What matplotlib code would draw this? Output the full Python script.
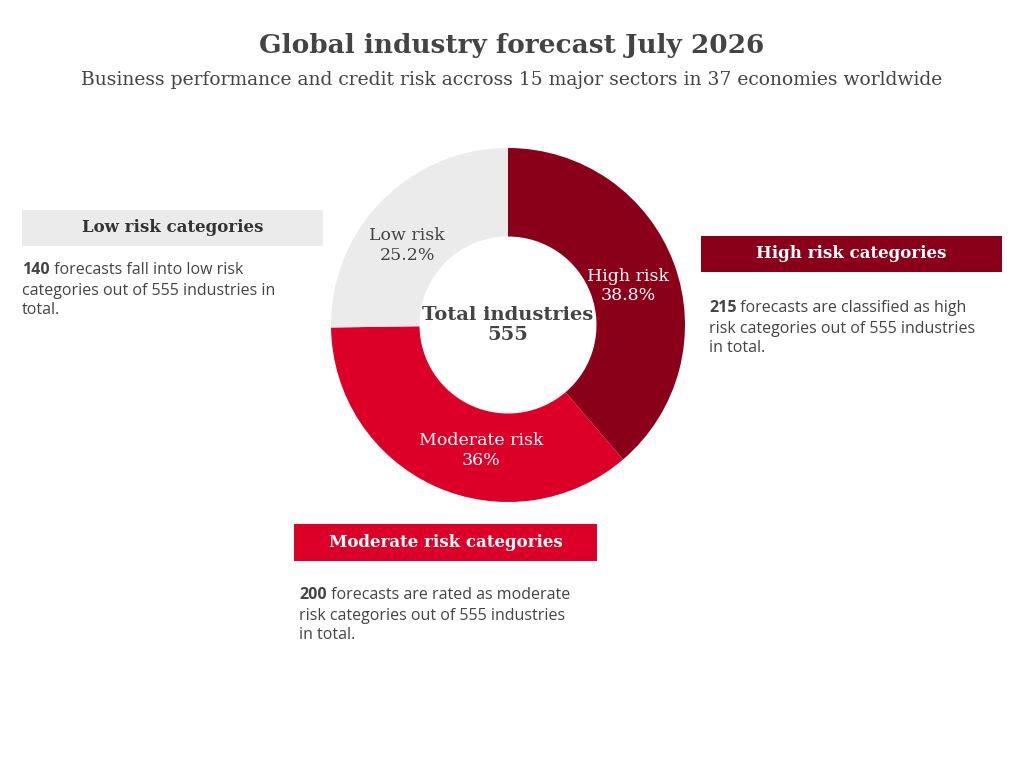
import matplotlib.pyplot as plt
from matplotlib.patches import Rectangle

labels = ["High risk", "Moderate risk", "Low risk"]
counts = [215, 200, 140]
pct_labels = ["38.8%", "36%", "25.2%"]
colors = ["#8B0019", "#DC0028", "#EBEBEB"]
total = sum(counts)

serif = "DejaVu Serif"
sans = "Open Sans"
W, H = 1024, 768

fig = plt.figure(figsize=(10.24, 7.68), dpi=100)

def fx(px):
    return px / W

def fy(py):
    return 1 - py / H

fig.text(0.5, fy(45), "Global industry forecast July 2026", ha="center", va="center",
         fontsize=19, fontweight="bold", family=serif, color="#444444")
fig.text(0.5, fy(80), "Business performance and credit risk accross 15 major sectors in 37 economies worldwide",
         ha="center", va="center", fontsize=13.5, family=serif, color="#444444")

ax = fig.add_axes([fx(508 - 177), fy(325 + 177), fx(354), 354 / H])
wedges, _ = ax.pie(counts, colors=colors, startangle=90, counterclock=False,
                   radius=1, wedgeprops=dict(width=0.5, edgecolor="white", linewidth=0))
ax.set_xlim(-1, 1)
ax.set_ylim(-1, 1)
ax.set_aspect("equal")
ax.axis("off")

txt_colors = ["white", "white", "#444444"]
pos = [(0.68, 0.22), (-0.15, -0.71), (-0.57, 0.45)]
for (x, y), lab, p, c in zip(pos, labels, pct_labels, txt_colors):
    ax.text(x, y, f"{lab}\n{p}", ha="center", va="center", fontsize=12.5,
            family=serif, color=c, linespacing=1.2)
ax.text(0, 0, f"Total industries\n{total}", ha="center", va="center", fontsize=14,
        fontweight="bold", family=serif, color="#444444", linespacing=1.2)

boxes = [
    (22, 210, 301, 36, "#EBEBEB", "#333333", "Low risk categories",
     [f"{counts[2]}", " forecasts fall into low risk\ncategories out of 555 industries in\ntotal."], 22, 262),
    (701, 236, 301, 36, colors[0], "white", "High risk categories",
     [f"{counts[0]}", " forecasts are classified as high\nrisk categories out of 555 industries\nin total."], 709, 300),
    (294, 524, 303, 37, colors[1], "white", "Moderate risk categories",
     [f"{counts[1]}", " forecasts are rated as moderate\nrisk categories out of 555 industries\nin total."], 299, 587),
]
for x, y, w, h, fc, tc, title, body, bx, by in boxes:
    fig.patches.append(Rectangle((fx(x), fy(y + h)), fx(w), h / H, transform=fig.transFigure,
                                 facecolor=fc, edgecolor="none"))
    fig.text(fx(x + w / 2), fy(y + h / 2), title, ha="center", va="center", fontsize=12,
             fontweight="bold", family=serif, color=tc)
    t = fig.text(fx(bx), fy(by), body[0], ha="left", va="top", fontsize=11.5,
                 fontweight="bold", family=sans, color="#444444")
    fig.text(fx(bx), fy(by), " " * 0 + "      " + body[1].lstrip() if False else "", fontsize=1)
    # body: bold number then regular text
    fig.text(fx(bx), fy(by), "        " + body[1].strip().replace("\n", "\n"), ha="left", va="top",
             fontsize=11.5, family=sans, color="#444444", linespacing=1.25, alpha=0)
    rend = fig.canvas.get_renderer()
    bb = t.get_window_extent(rend)
    first, rest = body[1].split("\n", 1)
    fig.text(fx(bx) + bb.width / W, fy(by), first, ha="left", va="top", fontsize=11.5,
             family=sans, color="#444444")
    fig.text(fx(bx), fy(by + 21), rest, ha="left", va="top", fontsize=11.5,
             family=sans, color="#444444", linespacing=1.25)

fig.savefig("out.png", dpi=100)
